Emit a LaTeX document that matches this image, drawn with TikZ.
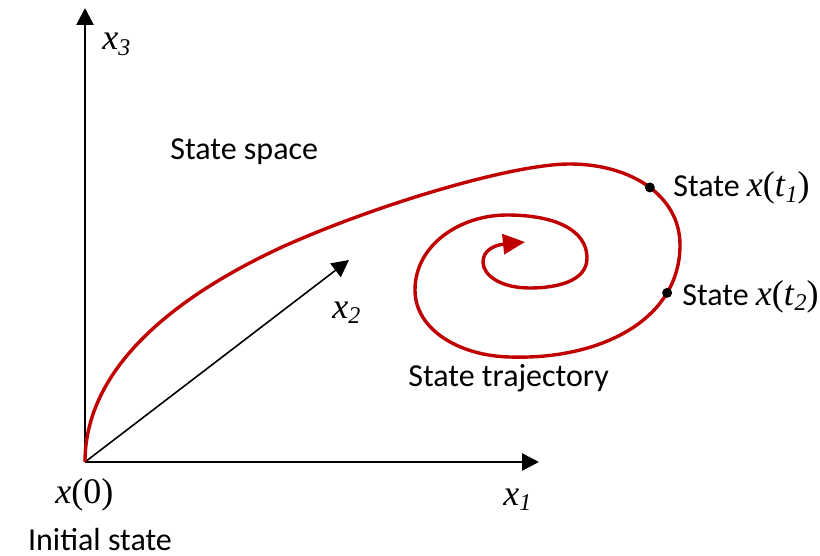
\documentclass[tikz,border=0pt]{standalone}
\usepackage{fontspec}
\setmainfont{Liberation Serif}
\newfontfamily\calfont{Carlito}
\usepackage{tikz}
\usetikzlibrary{positioning, arrows.meta}
\definecolor{trajred}{RGB}{192,0,0}
\newcommand{\vx}{\textit{x}}
\newcommand{\sbs}[1]{\raisebox{-0.35ex}{\fontsize{12}{12}\selectfont\itshape #1}}

\begin{document}
\begin{tikzpicture}[x=0.5pt, y=-0.5pt, >={Triangle[length=8.5pt,width=8.5pt]},
    axis/.style={line width=1.3pt, ->},
    traj/.style={draw=trajred, line width=1.7pt},
    lbl/.style={font=\fontsize{16}{18}\selectfont\calfont, inner sep=0pt},
    mlbl/.style={font=\fontsize{18}{20}\selectfont, inner sep=0pt},
    statedot/.style={circle, fill=black, inner sep=0pt, minimum size=5pt}]
    \useasboundingbox (0,0) rectangle (820,556);
    \coordinate (origin) at (85,462);
    \coordinate (x1end) at (539,462);
    \coordinate (x3end) at (85,8);
    \coordinate (x2end) at (349,260);
    \draw[axis] (origin) -- (x1end);
    \draw[axis] (origin) -- (x3end);
    \draw[->, line width=0.8pt] (origin) -- (x2end);
    \node[mlbl, anchor=base west] (x3lbl) at (102,50) {\vx\sbs{3}};
    \node[mlbl, anchor=base west] (x1lbl) at (503,505) {\vx\sbs{1}};
    \node[mlbl, anchor=base west] (x2lbl) at (332,318) {\vx\sbs{2}};
    \node[mlbl, anchor=base west] (x0lbl) at (55,503) {\vx(0)};
    \node[lbl, anchor=base] (initlbl) at (100,550) {Initial state};
    \node[lbl, anchor=base west] (spacelbl) at (170,160) {State space};
    \node[lbl, anchor=base west] (trajlbl) at (408,386) {State trajectory};
    % trajectory
    \draw[traj, -{Triangle[length=11pt,width=10pt]}]
        (origin) .. controls (85,360) and (190,290) .. (280,248)
        .. controls (370,207) and (510,164) .. (570,164)
        .. controls (630,164) and (680,195) .. node[pos=0.52, statedot] (t1dot) {} (680,245)
        .. controls (680,320) and (600,360) .. node[pos=0.24, statedot] (t2dot) {} (510,357)
        .. controls (460,356) and (415,330) .. (415,290)
        .. controls (415,245) and (460,215) .. (507,215)
        .. controls (555,215) and (587,230) .. (587,258)
        .. controls (587,282) and (555,288) .. (530,288)
        .. controls (500,288) and (483,275) .. (483,262)
        .. controls (483,250) and (495,245) .. (525,242);
    \node[lbl, anchor=base west] (t1lbl) at (673,197) {State {\fontsize{18}{20}\selectfont\rmfamily\vx(\textit{t}\sbs{1})}};
    \node[lbl, anchor=base west] (t2lbl) at (682,305) {State {\fontsize{18}{20}\selectfont\rmfamily\vx(\textit{t}\sbs{2})}};
\end{tikzpicture}
\end{document}
